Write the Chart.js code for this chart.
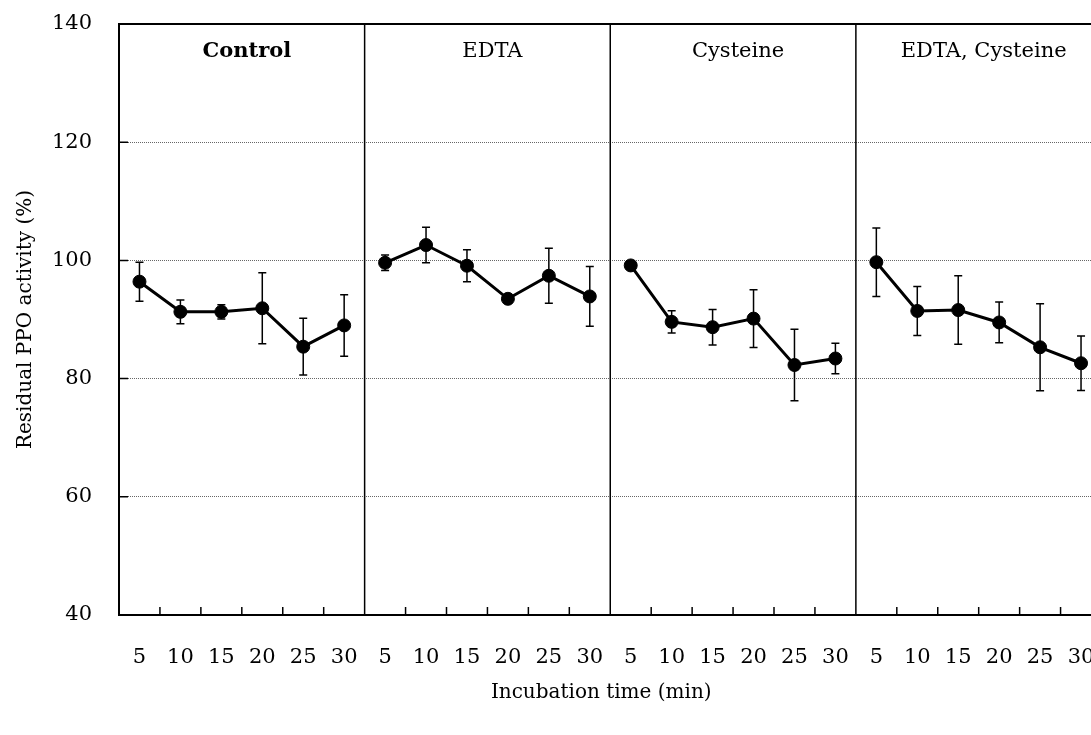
<!DOCTYPE html>
<html>
<head>
<meta charset="utf-8">
<script src="https://cdn.jsdelivr.net/npm/chart.js@4/dist/chart.umd.min.js"></script>
<style>
  html, body { margin: 0; padding: 0; background: #fff; overflow: hidden; }
  #wrap { position: relative; width: 1109px; height: 735px; }
</style>
</head>
<body>
<div id="wrap"><canvas id="chart"></canvas></div>
<script>
const panels = ["Control", "EDTA", "Cysteine", "EDTA, Cysteine"]
const times = ["5", "10", "15", "20", "25", "30"]
const yTicks = [40, 60, 80, 100, 120, 140]
const xTitle = "Incubation time (min)"

const control = [96.4, 91.3, 91.3, 91.9, 85.4, 89.0]
const controlErr = [3.3, 2.0, 1.2, 6.0, 4.8, 5.2]
const edta = [99.6, 102.6, 99.1, 93.5, 97.4, 93.9]
const edtaErr = [1.3, 3.0, 2.7, 0.5, 4.65, 5.05]
const cysteine = [99.15, 89.6, 88.7, 90.15, 82.3, 83.4]
const cysteineErr = [0.5, 1.9, 3.0, 4.9, 6.05, 2.6]
const edtaCys = [99.7, 91.45, 91.6, 89.5, 85.3, 82.6]
const edtaCysErr = [5.8, 4.15, 5.8, 3.45, 7.35, 4.6]

const series = [control, edta, cysteine, edtaCys]
const errors = [controlErr, edtaErr, cysteineErr, edtaCysErr]
const labels = panels.flatMap(() => times)

const FONT = "'DejaVu Serif', serif"
const CLEAR = "rgba(0,0,0,0)"

const datasets = series.map((vals, p) => ({
  label: panels[p],
  data: labels.map((_, i) => Math.floor(i / times.length) === p ? vals[i % times.length] : null),
  borderColor: "#000",
  backgroundColor: "#000",
  borderWidth: 3,
  pointRadius: 6.5,
  pointBorderWidth: 1,
  pointBackgroundColor: "#000",
  pointBorderColor: "#000",
  spanGaps: false,
  tension: 0
}))

// error bars, frame, inward ticks, panel separators and titles
const decorations = {
  id: "decorations",
  beforeDatasetsDraw(chart) {
    const { ctx, scales: { x, y } } = chart
    ctx.save()
    ctx.strokeStyle = "#000"
    ctx.lineWidth = 1.5
    series.forEach((vals, p) => {
      vals.forEach((v, i) => {
        const px = x.getPixelForValue(p * times.length + i)
        const e = errors[p][i]
        const top = y.getPixelForValue(v + e)
        const bot = y.getPixelForValue(v - e)
        ctx.beginPath()
        ctx.moveTo(px, top); ctx.lineTo(px, bot)
        ctx.moveTo(px - 4, top); ctx.lineTo(px + 4, top)
        ctx.moveTo(px - 4, bot); ctx.lineTo(px + 4, bot)
        ctx.stroke()
      })
    })
    ctx.restore()
  },
  afterDraw(chart) {
    const { ctx, chartArea: a, scales: { x, y } } = chart
    ctx.save()
    ctx.strokeStyle = "#000"
    ctx.lineWidth = 2
    ctx.beginPath()
    ctx.moveTo(a.left - 1, a.top)
    ctx.lineTo(a.right, a.top)
    ctx.stroke()

    const step = x.getPixelForValue(1) - x.getPixelForValue(0)
    ctx.lineWidth = 1.5
    for (let i = 1; i < labels.length; i++) {
      const bx = x.getPixelForValue(i) - step / 2
      ctx.beginPath()
      ctx.moveTo(bx, a.bottom)
      ctx.lineTo(bx, i % times.length === 0 ? a.top : a.bottom - 8)
      ctx.stroke()
    }

    ctx.beginPath()
    yTicks.slice(1, -1).forEach(v => {
      const py = y.getPixelForValue(v)
      ctx.moveTo(a.left, py)
      ctx.lineTo(a.left + 9, py)
    })
    ctx.stroke()

    ctx.fillStyle = "#000"
    ctx.textAlign = "center"
    ctx.textBaseline = "alphabetic"
    panels.forEach((name, p) => {
      const cx = (x.getPixelForValue(p * times.length) + x.getPixelForValue(p * times.length + 5)) / 2 + 5
      ctx.font = (p === 0 ? "bold " : "") + "21px " + FONT
      ctx.fillText(name, cx, a.top + 33)
    })

    // x axis title, centred a little left of the plot centre as in the figure
    ctx.font = "20px " + FONT
    ctx.textBaseline = "middle"
    ctx.fillText(xTitle, (a.left + a.right) / 2 - 9, a.bottom + 78)
    ctx.restore()
  }
}

new Chart(document.getElementById("chart"), {
  type: "line",
  data: { labels, datasets },
  plugins: [decorations],
  options: {
    responsive: true,
    maintainAspectRatio: false,
    animation: false,
    layout: { padding: { top: 24, right: 0, left: 0, bottom: 0 } },
    plugins: {
      legend: { display: false },
      tooltip: { enabled: false }
    },
    scales: {
      x: {
        type: "category",
        offset: true,
        afterFit: (scale) => { scale.height = 120 },
        grid: {
          display: true,
          drawOnChartArea: false,
          drawTicks: true,
          tickLength: 30,
          color: CLEAR,
          tickColor: CLEAR
        },
        border: { display: true, color: "#000", width: 2 },
        ticks: {
          color: "#000",
          font: { family: FONT, size: 21 },
          padding: 0,
          autoSkip: false,
          maxRotation: 0
        }
      },
      y: {
        min: 40,
        max: 140,
        afterFit: (scale) => { scale.width = 119 },
        afterBuildTicks: (scale) => { scale.ticks = yTicks.map(v => ({ value: v })) },
        grid: {
          drawTicks: true,
          tickLength: 27,
          tickColor: CLEAR,
          lineWidth: 1,
          color: (c) => (c.tick && c.tick.value > 40 && c.tick.value < 140) ? "#666" : CLEAR
        },
        border: { display: true, color: "#000", width: 2, dash: [1, 1] },
        ticks: {
          color: "#000",
          font: { family: FONT, size: 21 },
          padding: 0
        },
        title: {
          display: true,
          text: "Residual PPO activity (%)",
          color: "#000",
          font: { family: FONT, size: 20 },
          padding: { top: 14, bottom: 0 }
        }
      }
    }
  }
})
</script>
</body>
</html>
